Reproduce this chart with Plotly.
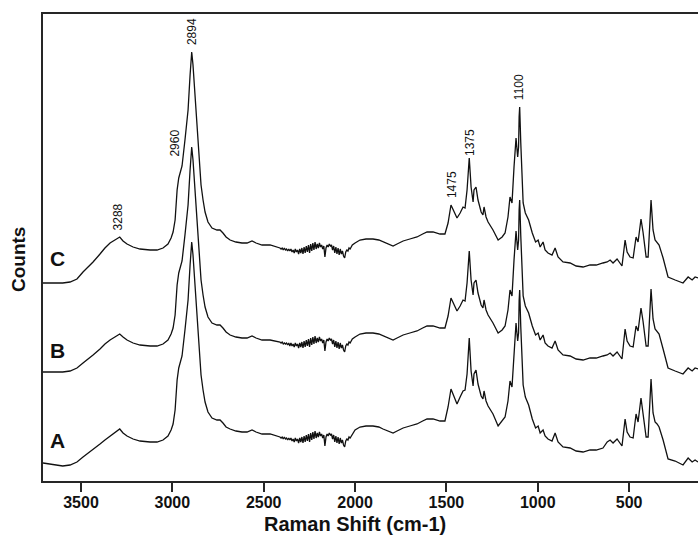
import plotly.graph_objects as go

# Raman shift grid (cm-1), shared by the three spectra
shift = [3708, 3650, 3600, 3560, 3522, 3489, 3467, 3434, 3396, 3369,
         3341, 3314, 3288, 3270, 3248, 3215, 3177, 3122, 3084, 3051,
         3024, 3007, 2996, 2985, 2974, 2965, 2958, 2947, 2931, 2914,
         2903, 2894, 2887, 2876, 2865, 2854, 2843, 2832, 2821, 2805,
         2783, 2756, 2739, 2723, 2706, 2684, 2652, 2619, 2591, 2564,
         2542, 2509, 2465,
         2411, 2405, 2399, 2393, 2387, 2381, 2375, 2369, 2363, 2357,
         2351, 2345, 2339, 2333, 2327, 2321, 2315, 2309, 2303, 2297,
         2291, 2285, 2279, 2273, 2267, 2261, 2255, 2249, 2243, 2237,
         2231, 2225, 2219, 2213, 2207, 2201, 2195, 2189, 2183, 2177,
         2171, 2165, 2159, 2153, 2147, 2141, 2135, 2129, 2123, 2117,
         2111, 2105, 2099, 2093, 2087, 2081, 2075, 2069, 2063, 2057,
         2051, 2045, 2039, 2033, 2027, 2021, 2015,
         2000, 1973, 1940, 1902, 1870, 1847, 1815, 1792, 1770, 1737,
         1700, 1661, 1630, 1606, 1573, 1551, 1535, 1508, 1491, 1475,
         1464, 1442, 1425, 1409, 1398, 1387, 1375, 1365, 1354, 1349,
         1338, 1327, 1310, 1300, 1294, 1283, 1272, 1245, 1217, 1195,
         1179, 1163, 1152, 1141, 1130, 1119, 1110, 1105, 1102, 1099,
         1093, 1087, 1080, 1068, 1050, 1030, 1012, 998, 987, 971,
         960, 944, 922, 905, 895, 889, 862, 823, 790, 752,
         714, 680, 643, 620, 604, 588, 566, 550, 539, 522,
         511, 495, 478, 462, 451, 435, 424, 407, 396, 380,
         369, 358, 347, 336, 314, 300, 287, 248, 205, 177,
         165, 155, 139, 123]

# Intensities (arbitrary counts) of each spectrum
counts_C = [0, 0, 0, 1, 4, 11, 15, 21, 29, 35,
            40, 43, 46, 42, 39, 36, 34, 33, 33, 35,
            39, 45, 51, 63, 93, 105, 111, 117, 143, 173,
            208, 231, 218, 186, 153, 123, 98, 83, 71, 61,
            55, 53, 53, 50, 46, 43, 41, 40, 40, 42,
            40, 38, 38,
            35, 34, 35, 33, 35, 33, 34, 32, 34, 32,
            34, 31, 33, 30, 34, 31, 33, 29, 34, 30,
            35, 29, 36, 30, 37, 31, 38, 30, 39, 32,
            40, 33, 41, 34, 39, 35, 40, 36, 38, 34,
            37, 26, 35, 38, 36, 39, 37, 38, 33, 37,
            30, 36, 29, 35, 28, 34, 29, 32, 27, 25,
            31, 33, 32, 35, 34, 36, 38,
            40, 43, 44, 44, 43, 41, 39, 37, 39, 42,
            44, 46, 49, 51, 51, 50, 49, 49, 60, 78,
            73, 65, 70, 76, 75, 93, 125, 96, 81, 93,
            96, 83, 71, 68, 76, 66, 61, 53, 43, 46,
            50, 66, 86, 80, 116, 145, 126, 136, 166, 176,
            140, 110, 80, 70, 63, 50, 41, 43, 36, 41,
            33, 30, 28, 35, 30, 26, 21, 20, 17, 16,
            18, 18, 20, 21, 23, 20, 24, 19, 17, 43,
            31, 26, 25, 46, 41, 64, 51, 26, 26, 83,
            53, 43, 41, 38, 25, 15, 6, 3, 0, 6,
            4, 3, 6, 5]

counts_B = [0, 0, 0, 1, 4, 9, 12, 17, 23, 28,
            32, 35, 38, 35, 32, 29, 27, 26, 26, 28,
            32, 38, 44, 57, 87, 99, 105, 111, 137, 167,
            202, 225, 212, 180, 147, 117, 92, 77, 65, 55,
            49, 47, 47, 44, 40, 37, 35, 34, 34, 36,
            34, 32, 32,
            30, 29, 30, 28, 29, 28, 29, 27, 29, 26,
            29, 26, 28, 25, 29, 26, 28, 24, 29, 25,
            30, 24, 31, 25, 32, 26, 33, 25, 34, 27,
            35, 28, 36, 29, 34, 30, 35, 31, 33, 29,
            32, 21, 30, 33, 31, 34, 32, 33, 28, 32,
            25, 31, 24, 30, 23, 29, 24, 27, 22, 20,
            26, 28, 27, 30, 29, 31, 33,
            35, 38, 39, 39, 38, 36, 34, 32, 34, 37,
            39, 41, 44, 46, 46, 45, 44, 44, 56, 74,
            69, 61, 66, 72, 71, 89, 121, 92, 77, 89,
            92, 79, 67, 64, 72, 62, 57, 49, 39, 42,
            46, 62, 82, 76, 112, 141, 122, 132, 162, 172,
            136, 106, 76, 66, 59, 46, 37, 39, 32, 37,
            29, 26, 24, 31, 26, 22, 17, 16, 13, 12,
            14, 14, 16, 17, 19, 16, 20, 15, 13, 43,
            31, 26, 25, 46, 41, 64, 51, 26, 26, 83,
            53, 43, 41, 38, 23, 13, 4, 1, -2, 4,
            2, 1, 4, 3]

counts_A = [0, -2, -3, -2, 1, 6, 9, 13, 19, 23,
            27, 30, 34, 30, 27, 24, 22, 21, 21, 23,
            27, 33, 39, 53, 83, 95, 101, 107, 133, 163,
            198, 221, 208, 176, 143, 113, 88, 73, 61, 51,
            45, 43, 43, 40, 36, 34, 32, 31, 31, 33,
            31, 29, 29,
            26, 25, 26, 24, 26, 24, 25, 23, 25, 23,
            25, 22, 24, 21, 25, 22, 24, 20, 25, 21,
            26, 20, 27, 21, 28, 22, 29, 21, 30, 23,
            31, 24, 32, 25, 30, 26, 31, 27, 29, 25,
            28, 17, 26, 29, 27, 30, 28, 29, 24, 28,
            21, 27, 20, 26, 19, 25, 20, 23, 18, 16,
            22, 24, 23, 26, 25, 27, 29,
            33, 36, 37, 37, 36, 34, 32, 30, 32, 35,
            37, 39, 42, 44, 44, 43, 42, 42, 56, 74,
            69, 59, 66, 72, 73, 89, 125, 92, 77, 89,
            93, 79, 67, 64, 72, 62, 57, 49, 37, 42,
            46, 62, 82, 76, 112, 140, 122, 130, 162, 173,
            136, 106, 78, 66, 58, 44, 35, 37, 30, 33,
            27, 24, 22, 30, 25, 21, 16, 15, 12, 11,
            13, 13, 15, 21, 23, 20, 24, 19, 17, 44,
            31, 26, 25, 49, 41, 65, 51, 26, 26, 84,
            50, 41, 39, 36, 23, 12, 4, 2, -2, 5,
            3, 1, 3, 1]

sample_names = ["A", "B", "C"]
peak_labels = ["3288", "2960", "2894", "1475", "1375", "1100"]
x_title = "Raman Shift (cm-1)"
y_title = "Counts"
x_ticks = [3500, 3000, 2500, 2000, 1500, 1000, 500]

for arr in (counts_A, counts_B, counts_C):
    assert len(arr) == len(shift), (len(arr), len(shift))

# ---- display settings (stacking offsets and label placement) ----
stack_offset = {"A": 18, "B": 109, "C": 198}
sample_label_pos = {"A": (3626, 41), "B": (3626, 131), "C": (3626, 223)}
peak_label_pos = [(3295, 264), (2988, 338), (2892, 449), (1469, 296), (1371, 339), (1102, 394)]

FONT = "Arial, Liberation Sans, Helvetica, sans-serif"
AXIS_COLOR = "#262626"
W, H = 698, 536
ML, MR, MT, MB = 43, 0, 14, 55
pw, ph = W - ML - MR, H - MT - MB

spectra = {"A": counts_A, "B": counts_B, "C": counts_C}

fig = go.Figure()
for name in sample_names:
    off = stack_offset[name]
    fig.add_trace(go.Scatter(
        x=shift,
        y=[v + off for v in spectra[name]],
        mode="lines",
        line=dict(color="#111111", width=1.3),
        name=name,
        showlegend=False,
        hoverinfo="skip",
    ))

annotations = []
for name in sample_names:
    lx, ly = sample_label_pos[name]
    annotations.append(dict(x=lx, y=ly, xref="x", yref="y", text=f"<b>{name}</b>",
                            showarrow=False, xanchor="center", yanchor="middle",
                            font=dict(family=FONT, size=21, color="#111111")))
for txt, (px, py) in zip(peak_labels, peak_label_pos):
    annotations.append(dict(x=px, y=py, xref="x", yref="y", text=txt, textangle=-90,
                            showarrow=False, xanchor="center", yanchor="middle",
                            font=dict(family=FONT, size=12, color="#111111")))
# axis titles (pixel positions converted to paper coordinates)
annotations.append(dict(x=(355 - ML) / pw, y=(H - MB - 524) / ph, xref="paper", yref="paper",
                        text=f"<b>{x_title}</b>", showarrow=False,
                        xanchor="center", yanchor="middle",
                        font=dict(family=FONT, size=20, color="#111111")))
annotations.append(dict(x=(18 - ML) / pw, y=(H - MB - 260) / ph, xref="paper", yref="paper",
                        text=f"<b>{y_title}</b>", textangle=-90, showarrow=False,
                        xanchor="center", yanchor="middle",
                        font=dict(family=FONT, size=19, color="#111111")))

fig.update_layout(
    width=W, height=H,
    margin=dict(l=ML, r=MR, t=MT, b=MB, pad=0),
    paper_bgcolor="white", plot_bgcolor="white",
    annotations=annotations,
    xaxis=dict(
        range=[3708, 123],
        tickmode="array", tickvals=x_ticks, ticktext=[str(t) for t in x_ticks],
        ticks="outside", ticklen=9, tickwidth=2, tickcolor=AXIS_COLOR,
        ticklabelstandoff=-3,
        showline=True, linewidth=2, linecolor=AXIS_COLOR, mirror=True,
        showgrid=False, zeroline=False,
        tickfont=dict(family=FONT, size=16, color="#111111", weight="bold"),
    ),
    yaxis=dict(
        range=[0, 467],
        showticklabels=False, ticks="",
        showline=True, linewidth=2, linecolor=AXIS_COLOR, mirror=False,
        showgrid=False, zeroline=False,
    ),
)

fig.write_html("out.html")
